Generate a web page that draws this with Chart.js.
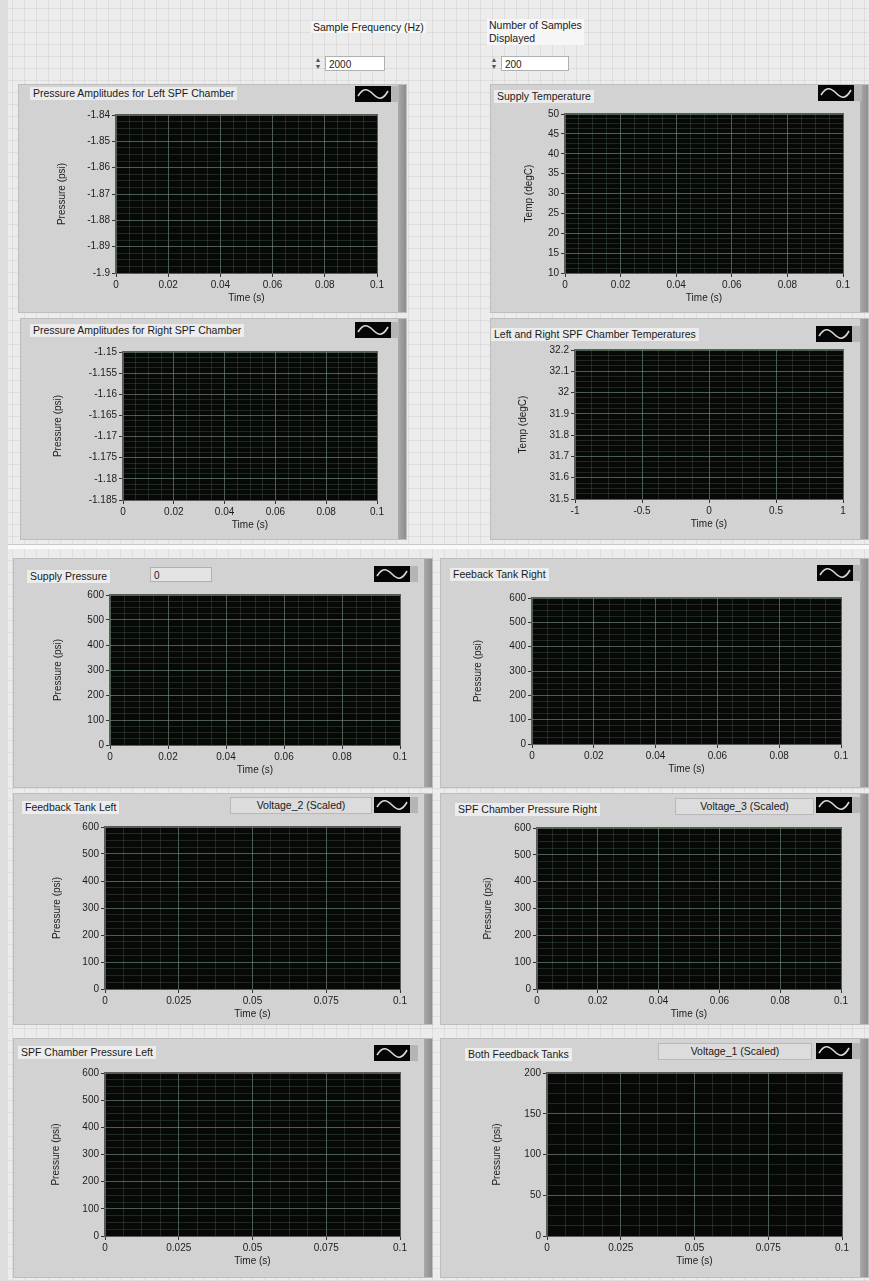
<!DOCTYPE html>
<html>
<head>
<meta charset="utf-8">
<script src="https://cdn.jsdelivr.net/npm/chart.js@4.4.1/dist/chart.umd.min.js"></script>
<style>
  html, body { margin: 0; padding: 0; }
  body {
    width: 869px; height: 1281px; position: relative; overflow: hidden;
    font-family: "Liberation Sans", Arial, sans-serif; color: #1a1a1a;
    background-color: #ececec;
    background-image:
      repeating-linear-gradient(0deg, rgba(0,0,0,0.06) 0 1px, transparent 1px 12px),
      repeating-linear-gradient(90deg, rgba(0,0,0,0.06) 0 1px, transparent 1px 12px);
  }
  .abs { position: absolute; }
  .panel { position: absolute; background: #d2d2d2; border: 1px solid #bdbdbd; box-sizing: border-box; }
  .strip { position: absolute; top: 0; right: 0; width: 8px; bottom: 0; background: linear-gradient(90deg, #a9a9a9, #8e8e8e); }
  .label { position: absolute; font-size: 10.5px; white-space: nowrap; background: #ececec; padding: 0 3px; line-height: 13px; }
  .legendLabel { position: absolute; font-size: 10.5px; white-space: nowrap; background: #dcdcdc; border: 1px solid #b8b8b8; text-align: center; line-height: 15px; height: 15px; }
  .icon { position: absolute; width: 44px; height: 16px; background: #b5b5b5; }
  .icon svg { position: absolute; left: 0; top: 0; }
  .num { position: absolute; height: 15px; background: #fff; border: 1px solid #b0b0b0; font-size: 10px; line-height: 15px; padding-left: 3px; box-sizing: border-box; }
  .spin { position: absolute; width: 10px; height: 15px; font-size: 7px; line-height: 7px; color: #555; text-align: center; }
  canvas { position: absolute; }
</style>
</head>
<body>
<div id="page"></div>
<script>
// ---- data ----
const chartTitles = [
  "Pressure Amplitudes for Left SPF Chamber",
  "Supply Temperature",
  "Pressure Amplitudes for Right SPF Chamber",
  "Left and Right SPF Chamber Temperatures",
  "Supply Pressure",
  "Feeback Tank Right",
  "Feedback Tank Left",
  "SPF Chamber Pressure Right",
  "SPF Chamber Pressure Left",
  "Both Feedback Tanks"
];
const yTitles = [
  "Pressure (psi)", "Temp (degC)", "Pressure (psi)", "Temp (degC)",
  "Pressure (psi)", "Pressure (psi)", "Pressure (psi)", "Pressure (psi)",
  "Pressure (psi)", "Pressure (psi)"
];
const xTitle = "Time (s)";
const legendNames = [null, null, null, null, null, null,
  "Voltage_2 (Scaled)", "Voltage_3 (Scaled)", null, "Voltage_1 (Scaled)"];

const leftAmpTicks = [-1.9, -1.89, -1.88, -1.87, -1.86, -1.85, -1.84];
const supplyTempTicks = [10, 15, 20, 25, 30, 35, 40, 45, 50];
const rightAmpTicks = [-1.185, -1.18, -1.175, -1.17, -1.165, -1.16, -1.155, -1.15];
const chamberTempTicks = [31.5, 31.6, 31.7, 31.8, 31.9, 32, 32.1, 32.2];
const pressureTicks = [0, 100, 200, 300, 400, 500, 600];
const bothTanksTicks = [0, 50, 100, 150, 200];

const timeTicks02 = [0, 0.02, 0.04, 0.06, 0.08, 0.1];
const timeTicks025 = [0, 0.025, 0.05, 0.075, 0.1];
const chamberTimeTicks = [-1, -0.5, 0, 0.5, 1];

const yTickSets = [leftAmpTicks, supplyTempTicks, rightAmpTicks, chamberTempTicks,
  pressureTicks, pressureTicks, pressureTicks, pressureTicks, pressureTicks, bothTanksTicks];
const xTickSets = [timeTicks02, timeTicks02, timeTicks02, chamberTimeTicks,
  timeTicks02, timeTicks02, timeTicks025, timeTicks02, timeTicks025, timeTicks025];

// nothing is plotted in any of the graphs
const traceValues = [[], [], [], [], [], [], [], [], [], []];

const sampleFrequency = "2000";
const samplesDisplayed = "200";
const supplyPressureValue = "0";

// ---- layout (page px) ----
const layout = [
  { frame: [18, 84, 389, 229],  plot: [116, 115, 377, 273], yTitleX: 62,  title: [30, 87],   icon: [355, 86] },
  { frame: [490, 84, 379, 229], plot: [565, 114, 843, 273], yTitleX: 529, title: [494, 90],  icon: [818, 85] },
  { frame: [20, 318, 387, 222], plot: [123, 352, 377, 500], yTitleX: 58,  title: [30, 324],  icon: [355, 322] },
  { frame: [490, 318, 379, 222],plot: [575, 350, 843, 499], yTitleX: 523, title: [491, 328], icon: [816, 326] },
  { frame: [13, 558, 420, 230], plot: [110, 595, 400, 745], yTitleX: 58,  title: [27, 570],  icon: [374, 566] },
  { frame: [440, 558, 429, 230],plot: [532, 598, 841, 744], yTitleX: 478, title: [450, 568], icon: [817, 565] },
  { frame: [13, 793, 420, 232], plot: [105, 827, 400, 989], yTitleX: 57,  title: [22, 801],  icon: [374, 797], legend: [230, 797, 140] },
  { frame: [440, 793, 429, 232],plot: [537, 828, 841, 989], yTitleX: 488, title: [455, 803], icon: [816, 797], legend: [675, 798, 137] },
  { frame: [13, 1038, 420, 240],plot: [105, 1073, 400, 1236], yTitleX: 56, title: [18, 1046], icon: [374, 1045] },
  { frame: [440, 1038, 429, 240],plot: [547, 1073, 842, 1236], yTitleX: 497, title: [465, 1048], icon: [816, 1043], legend: [658, 1043, 152] }
];

const page = document.getElementById("page");

function el(cls, x, y, html, extra) {
  const d = document.createElement("div");
  d.className = cls;
  d.style.left = x + "px";
  d.style.top = y + "px";
  if (html !== undefined) d.innerHTML = html;
  if (extra) Object.assign(d.style, extra);
  page.appendChild(d);
  return d;
}

// top controls
el("abs", 311, 21, "Sample Frequency (Hz)", { fontSize: "10.5px", background: "#f6f6f6", padding: "0 2px" });
el("spin", 313, 56, "&#9650;<br>&#9660;");
el("num", 325, 56, sampleFrequency, { width: "60px" });
el("abs", 487, 19, "Number of Samples<br>Displayed", { fontSize: "10.5px", lineHeight: "13px", background: "#f6f6f6", padding: "0 2px" });
el("spin", 489, 56, "&#9650;<br>&#9660;");
el("num", 501, 56, samplesDisplayed, { width: "68px" });

// separator between the two groups
el("abs", 8, 544, "", { width: "861px", height: "4px", background: "#fafafa", borderTop: "1px solid #c8c8c8" });
el("abs", 0, 0, "", { width: "8px", height: "1281px", background: "#dedede" });

const waveSvg = '<svg width="36" height="16"><rect width="36" height="16" fill="#050505"/>' +
  '<path d="M3 10 C 8 2, 12 2, 18 8 S 28 14, 33 5" stroke="#d8d8d8" stroke-width="1.6" fill="none"/></svg>';

// black plot area behind the grid
const plotBg = {
  id: "plotBg",
  beforeDraw(chart) {
    const a = chart.chartArea, c = chart.ctx;
    c.save();
    c.fillStyle = "#070907";
    c.fillRect(a.left, a.top, a.right - a.left, a.bottom - a.top);
    c.restore();
  },
  afterDraw(chart) {
    const a = chart.chartArea, c = chart.ctx;
    c.save();
    c.strokeStyle = "#5b5b5b";
    c.lineWidth = 1;
    c.strokeRect(a.left - 0.5, a.top - 0.5, a.right - a.left + 1, a.bottom - a.top + 1);
    c.restore();
  }
};

function withMinors(majors, parts) {
  const out = [];
  for (let i = 0; i < majors.length; i++) {
    out.push({ value: majors[i], major: true });
    if (i < majors.length - 1) {
      for (let k = 1; k < parts; k++) {
        out.push({ value: majors[i] + (majors[i + 1] - majors[i]) * k / parts, major: false });
      }
    }
  }
  return out;
}

function axis(majors, title, fixedSize, horizontal) {
  return {
    type: "linear",
    min: majors[0],
    max: majors[majors.length - 1],
    afterBuildTicks: (s) => { s.ticks = withMinors(majors, 4); },
    afterFit: (s) => { if (horizontal) s.height = fixedSize; else s.width = fixedSize; },
    ticks: {
      autoSkip: false, maxRotation: 0, padding: 2,
      color: "#1c1c1c",
      font: { family: "Liberation Sans", size: 10 },
      callback: (v) => (majors.includes(v) ? String(v) : "")
    },
    grid: {
      drawTicks: true, tickLength: 4,
      color: (ctx) => (ctx.tick && ctx.tick.major ? "rgba(125,150,130,0.6)" : "rgba(75,100,80,0.36)"),
      tickColor: (ctx) => (ctx.tick && ctx.tick.major ? "#333" : "rgba(0,0,0,0)")
    },
    border: { display: false },
    title: {
      display: true, text: title, color: "#1c1c1c",
      font: { family: "Liberation Sans", size: 10 },
      padding: horizontal ? { top: 0, bottom: 3 } : { top: 2, bottom: 0 }
    }
  };
}

layout.forEach((L, i) => {
  const [fx, fy, fw, fh] = L.frame;
  const [pl, pt, pr, pb] = L.plot;

  const p = el("panel", fx, fy, "", { width: fw + "px", height: fh + "px" });
  const strip = document.createElement("div");
  strip.className = "strip";
  p.appendChild(strip);

  el("label", L.title[0], L.title[1], chartTitles[i]);
  if (legendNames[i]) {
    el("legendLabel", L.legend[0], L.legend[1], legendNames[i], { width: L.legend[2] + "px" });
  }
  el("icon", L.icon[0], L.icon[1], waveSvg);
  if (i === 4) el("num", 150, 567, supplyPressureValue, { width: "62px", background: "#e4e4e4" });

  const cx = fx + 2, cy = pt - 8;
  const cw = fw - 12, ch = fy + fh - cy - 2;
  const yW = pl - L.yTitleX + 8;
  const xH = 34;

  const canvas = document.createElement("canvas");
  canvas.style.left = cx + "px";
  canvas.style.top = cy + "px";
  canvas.style.width = cw + "px";
  canvas.style.height = ch + "px";
  canvas.width = cw;
  canvas.height = ch;
  page.appendChild(canvas);

  new Chart(canvas, {
    type: "line",
    data: {
      datasets: [{
        label: legendNames[i] || chartTitles[i],
        data: traceValues[i],
        borderColor: "#ffffff",
        borderWidth: 1,
        pointRadius: 0
      }]
    },
    options: {
      responsive: false,
      animation: false,
      layout: {
        padding: {
          left: pl - cx - yW,
          top: pt - cy,
          right: cx + cw - pr,
          bottom: Math.max(0, cy + ch - pb - xH)
        }
      },
      plugins: { legend: { display: false }, tooltip: { enabled: false } },
      scales: {
        x: axis(xTickSets[i], xTitle, xH, true),
        y: axis(yTickSets[i], yTitles[i], yW, false)
      }
    },
    plugins: [plotBg]
  });
});
</script>
</body>
</html>
